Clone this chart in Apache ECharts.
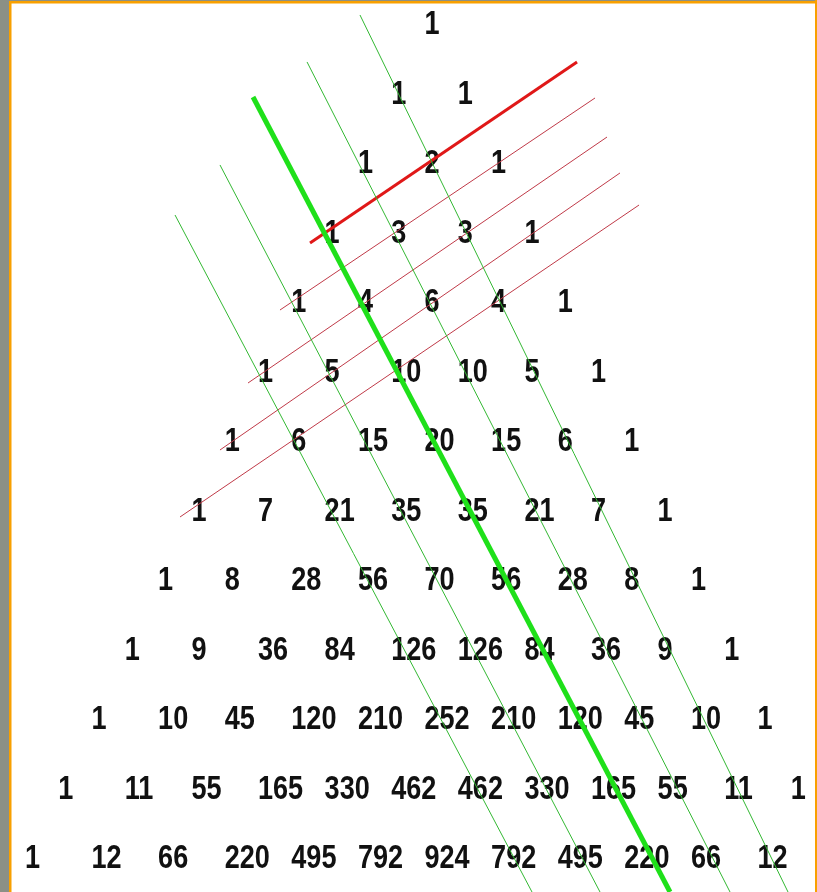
<!DOCTYPE html>
<html>
<head>
<meta charset="utf-8">
<script src="https://cdn.jsdelivr.net/npm/echarts@6/dist/echarts.min.js"></script>
<style>
  html, body { margin: 0; padding: 0; background: #fff; }
  #chart { width: 817px; height: 892px; }
</style>
</head>
<body>
<div id="chart"></div>
<script>
// Pascal's triangle, read row by row
const rows = [
  [1],
  [1, 1],
  [1, 2, 1],
  [1, 3, 3, 1],
  [1, 4, 6, 4, 1],
  [1, 5, 10, 10, 5, 1],
  [1, 6, 15, 20, 15, 6, 1],
  [1, 7, 21, 35, 35, 21, 7, 1],
  [1, 8, 28, 56, 70, 56, 28, 8, 1],
  [1, 9, 36, 84, 126, 126, 84, 36, 9, 1],
  [1, 10, 45, 120, 210, 252, 210, 120, 45, 10, 1],
  [1, 11, 55, 165, 330, 462, 462, 330, 165, 55, 11, 1],
  [1, 12, 66, 220, 495, 792, 924, 792, 495, 220, 66, 12]
]

// shallow diagonals (red), [slot, row] endpoints
const redStart = [[-1.839, 3.137], [-2.29, 4.101], [-2.77, 5.151], [-3.191, 6.115], [-3.791, 7.079]]
const redEnd = [[2.17, 0.532], [2.44, 1.05], [2.62, 1.612], [2.815, 2.129], [3.101, 2.59]]
const redThick = [true, false, false, false, false]

// hockey-stick diagonals (green), [slot, row] endpoints
const greenStart = [[-1.089, -0.144], [-1.884, 0.532], [-2.695, 1.036], [-3.191, 2.014], [-3.866, 2.734]]
const greenEnd = [[5.338, 12.475], [4.467, 12.475], [3.566, 12.475], [2.515, 12.475], [1.494, 12.475]]
const greenThick = [false, false, true, false, false]

const cells = []
rows.forEach((row, n) => {
  row.forEach((v, k) => {
    cells.push([k - n / 2, n, v])
  })
})

const series = [
  {
    type: 'custom',
    data: cells,
    z: 2,
    renderItem: (params, api) => {
      const p = api.coord([api.value(0), api.value(1)])
      return {
        type: 'text',
        x: p[0] - 8,
        y: p[1],
        scaleX: 0.82, // narrow digits like the original
        style: {
          text: String(api.value(2)),
          x: 0,
          y: 0,
          align: 'left',
          verticalAlign: 'middle',
          fontFamily: '"Liberation Sans", Arial, sans-serif',
          fontWeight: 'bold',
          fontSize: 33,
          fill: '#111'
        }
      }
    }
  }
]

redStart.forEach((s, i) => {
  series.push({
    type: 'line',
    data: [s, redEnd[i]],
    symbol: 'none',
    silent: true,
    z: 3,
    lineStyle: redThick[i]
      ? { color: '#e01818', width: 3 }
      : { color: '#c03a48', width: 1 }
  })
})

greenStart.forEach((s, i) => {
  series.push({
    type: 'line',
    data: [s, greenEnd[i]],
    symbol: 'none',
    silent: true,
    z: 3,
    lineStyle: greenThick[i]
      ? { color: '#1fe01a', width: 5 }
      : { color: '#33b833', width: 1 }
  })
})

const myChart = echarts.init(document.getElementById('chart'))
myChart.setOption({
  animation: false,
  backgroundColor: '#fff',
  grid: { left: 0, right: 0, top: 0, bottom: 0 },
  xAxis: { type: 'value', min: -6.494, max: 5.773, show: false },
  yAxis: { type: 'value', min: -0.3597, max: 12.475, inverse: true, show: false },
  graphic: [
    { type: 'rect', shape: { x: 0, y: 0, width: 9, height: 892 }, style: { fill: '#8b9086' } },
    { type: 'rect', shape: { x: 9, y: 0, width: 2.5, height: 892 }, style: { fill: '#f8a000' } },
    { type: 'rect', shape: { x: 0, y: 0, width: 817, height: 1 }, style: { fill: '#8b9086' } },
    { type: 'rect', shape: { x: 9, y: 1, width: 808, height: 2.5 }, style: { fill: '#f8a000' } },
    { type: 'rect', shape: { x: 815, y: 0, width: 2, height: 892 }, style: { fill: '#f8a000' } }
  ],
  series: series
})
</script>
</body>
</html>
